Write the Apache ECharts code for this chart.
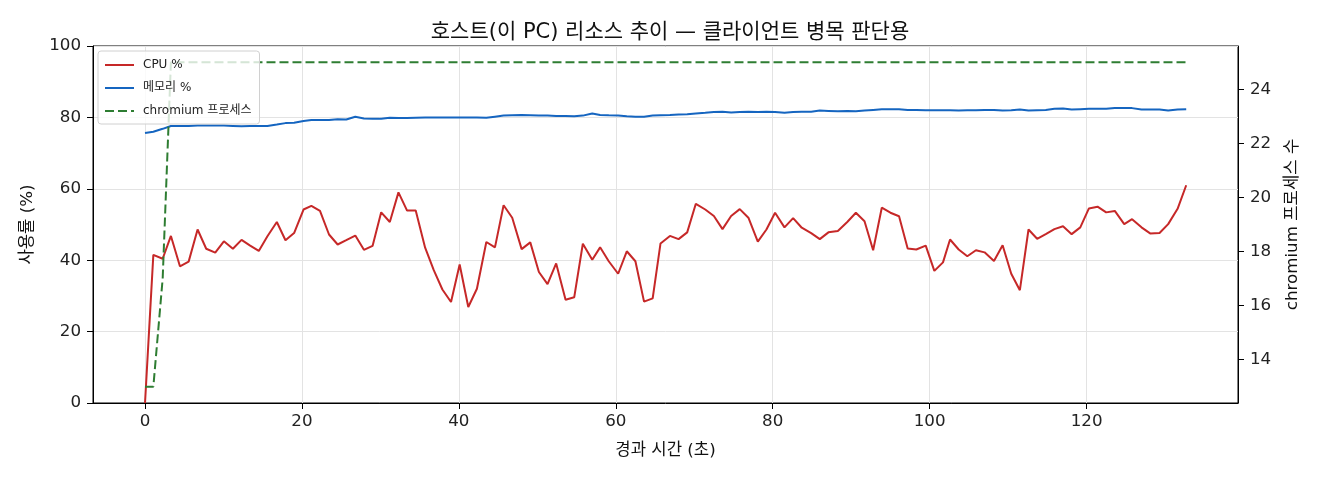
<!DOCTYPE html>
<html>
<head>
<meta charset="utf-8">
<script src="https://cdn.jsdelivr.net/npm/echarts@6/dist/echarts.min.js"></script>
<style>
  html, body { margin: 0; padding: 0; background: #fff; }
  #chart { width: 1320px; height: 480px; }
</style>
</head>
<body>
<div id="chart"></div>
<script>
// 경과 시간 (초)
var times = [0, 1.06, 2.25, 3.3, 4.45, 5.56, 6.7, 7.8, 8.95, 10.05,
  11.2, 12.3, 13.4, 14.5, 15.6, 16.8, 17.9, 19.0, 20.2, 21.2,
  22.3, 23.45, 24.55, 25.65, 26.8, 27.9, 29.0, 30.1, 31.2, 32.3,
  33.4, 34.5, 35.7, 36.8, 37.9, 39.0, 40.1, 41.2, 42.3, 43.5,
  44.6, 45.7, 46.8, 48.0, 49.1, 50.2, 51.3, 52.4, 53.6, 54.7,
  55.8, 57.0, 58.0, 59.1, 60.3, 61.4, 62.5, 63.6, 64.7, 65.7,
  66.9, 68.0, 69.1, 70.2, 71.4, 72.5, 73.6, 74.7, 75.8, 76.9,
  78.1, 79.2, 80.3, 81.5, 82.6, 83.7, 84.9, 86.0, 87.1, 88.3,
  89.5, 90.6, 91.7, 92.8, 93.9, 95.0, 96.1, 97.2, 98.3, 99.5,
  100.6, 101.7, 102.6, 103.7, 104.8, 105.9, 107.0, 108.2, 109.3, 110.4,
  111.5, 112.6, 113.7, 114.8, 115.9, 117.0, 118.1, 119.2, 120.3, 121.4,
  122.5, 123.6, 124.8, 125.8, 127.0, 128.1, 129.3, 130.4, 131.6, 132.7];

var cpu = [0, 41.5, 40.4, 46.8, 38.3, 39.6, 48.6, 43.2, 42.1, 45.3,
  43.2, 45.7, 44.1, 42.6, 46.7, 50.7, 45.6, 47.6, 54.2, 55.2,
  53.8, 47.2, 44.4, 45.6, 46.9, 42.9, 44.0, 53.4, 50.7, 59.0,
  53.9, 53.9, 43.5, 37.2, 31.8, 28.3, 38.8, 26.9, 32.0, 45.1,
  43.6, 55.4, 51.9, 43.1, 45.0, 36.7, 33.3, 39.1, 28.9, 29.6,
  44.6, 40.1, 43.6, 39.7, 36.2, 42.5, 39.7, 28.4, 29.3, 44.7,
  46.8, 45.9, 47.8, 55.8, 54.2, 52.4, 48.7, 52.4, 54.3, 51.9,
  45.2, 48.6, 53.3, 49.2, 51.8, 49.1, 47.6, 45.9, 47.8, 48.2,
  50.7, 53.3, 50.9, 42.8, 54.7, 53.3, 52.3, 43.3, 43.0, 44.1,
  37.0, 39.4, 45.8, 43.0, 41.1, 42.8, 42.2, 39.8, 44.2, 36.2,
  31.6, 48.6, 46.0, 47.3, 48.7, 49.5, 47.3, 49.2, 54.5, 55.0,
  53.4, 53.8, 50.1, 51.5, 49.2, 47.5, 47.6, 50.1, 54.4, 61.0];

var mem = [75.6, 76.0, 76.8, 77.6, 77.6, 77.6, 77.7, 77.7, 77.7, 77.7,
  77.6, 77.5, 77.6, 77.6, 77.6, 78.0, 78.4, 78.5, 79.0, 79.3,
  79.3, 79.3, 79.5, 79.4, 80.2, 79.7, 79.6, 79.6, 79.9, 79.8,
  79.8, 79.9, 80.0, 80.0, 80.0, 80.0, 80.0, 80.0, 80.0, 79.9,
  80.2, 80.5, 80.6, 80.7, 80.6, 80.5, 80.5, 80.4, 80.4, 80.3,
  80.5, 81.1, 80.7, 80.6, 80.5, 80.3, 80.2, 80.2, 80.5, 80.6,
  80.7, 80.8, 80.9, 81.1, 81.3, 81.5, 81.6, 81.4, 81.5, 81.6,
  81.5, 81.6, 81.5, 81.3, 81.5, 81.6, 81.6, 81.9, 81.8, 81.7,
  81.8, 81.7, 81.9, 82.1, 82.3, 82.3, 82.3, 82.1, 82.1, 82.0,
  82.0, 82.0, 82.0, 81.9, 82.0, 82.0, 82.1, 82.1, 81.9, 82.0,
  82.2, 81.9, 82.0, 82.1, 82.4, 82.5, 82.2, 82.3, 82.4, 82.4,
  82.4, 82.6, 82.6, 82.6, 82.2, 82.2, 82.2, 81.9, 82.2, 82.3];

var chromium = [13, 13, 17];
for (var i = 3; i < times.length; i++) chromium.push(25);

var xTicks = [0, 20, 40, 60, 80, 100, 120];
var rightTicks = [14, 16, 18, 20, 22, 24];

function pairs(vals) {
  return times.map(function (t, i) { return [t, vals[i]]; });
}

var font = '"DejaVu Sans", "Noto Sans CJK KR", sans-serif';
var chart = echarts.init(document.getElementById('chart'));

var option = {
  animation: false,
  textStyle: { fontFamily: font },
  title: {
    text: '호스트(이 PC) 리소스 추이 — 클라이언트 병목 판단용',
    left: 665,
    top: 17,
    textAlign: 'center',
    textStyle: { fontFamily: font, fontSize: 21, fontWeight: 'normal', color: '#111' }
  },
  legend: {
    orient: 'vertical',
    left: 98,
    top: 51,
    itemWidth: 29,
    itemHeight: 10,
    itemGap: 11,
    padding: [8, 8, 7, 6],
    backgroundColor: 'rgba(255,255,255,0.8)',
    borderColor: '#d0d0d0',
    borderWidth: 1,
    borderRadius: 3,
    itemStyle: { opacity: 0 },
    textStyle: { fontFamily: font, fontSize: 12, color: '#222', padding: [0, 0, 0, 4] },
    data: ['CPU %', '메모리 %', 'chromium 프로세스']
  },
  grid: {
    left: 93, top: 46, width: 1145, height: 357,
    show: true, borderColor: '#000', borderWidth: 1, backgroundColor: 'transparent'
  },
  xAxis: {
    type: 'value',
    min: -6.63,
    max: 139.3,
    name: '경과 시간 (초)',
    nameLocation: 'middle',
    nameGap: 39,
    nameTextStyle: { fontFamily: font, fontSize: 16.7, color: '#111' },
    axisLine: { show: true, onZero: false, lineStyle: { color: '#000', width: 1 } },
    axisTick: { show: true, length: 6, customValues: xTicks, lineStyle: { color: '#000' } },
    axisLabel: { customValues: xTicks, fontSize: 16.7, color: '#222', margin: 10 },
    splitLine: { show: true, lineStyle: { color: '#e3e3e3', width: 1 } }
  },
  yAxis: [
    {
      type: 'value',
      min: 0,
      max: 100,
      interval: 20,
      name: '사용률 (%)',
      nameLocation: 'middle',
      nameRotate: 90,
      nameGap: 57,
      nameTextStyle: { fontFamily: font, fontSize: 16.7, color: '#111' },
      axisLine: { show: true, onZero: false, lineStyle: { color: '#000', width: 1 } },
      axisTick: { show: true, length: 6, lineStyle: { color: '#000' } },
      axisLabel: { fontSize: 16.7, color: '#222', margin: 12 },
      splitLine: { show: true, lineStyle: { color: '#e3e3e3', width: 1 } }
    },
    {
      type: 'value',
      position: 'right',
      min: 12.4,
      max: 25.6,
      name: 'chromium 프로세스 수',
      nameLocation: 'middle',
      nameRotate: 90,
      nameGap: 46,
      nameTextStyle: { fontFamily: font, fontSize: 16.7, color: '#111' },
      axisLine: { show: true, onZero: false, lineStyle: { color: '#000', width: 1 } },
      axisTick: { show: true, length: 6, customValues: rightTicks, lineStyle: { color: '#000' } },
      axisLabel: { customValues: rightTicks, fontSize: 16.7, color: '#222', margin: 12 },
      splitLine: { show: false }
    }
  ],
  series: [
    {
      name: 'CPU %',
      type: 'line',
      yAxisIndex: 0,
      symbol: 'none',
      color: '#c62828',
      lineStyle: { color: '#c62828', width: 2 },
      data: pairs(cpu)
    },
    {
      name: '메모리 %',
      type: 'line',
      yAxisIndex: 0,
      symbol: 'none',
      color: '#1565c0',
      lineStyle: { color: '#1565c0', width: 2 },
      data: pairs(mem)
    },
    {
      name: 'chromium 프로세스',
      type: 'line',
      yAxisIndex: 1,
      symbol: 'none',
      color: '#2e7d32',
      lineStyle: { color: '#2e7d32', width: 2, type: [9, 4] },
      data: pairs(chromium)
    }
  ]
};

chart.setOption(option);
</script>
</body>
</html>
